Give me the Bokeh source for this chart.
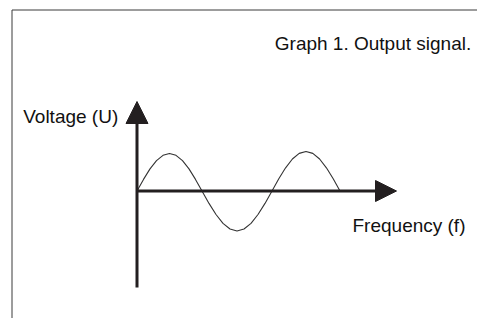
from bokeh.plotting import figure
from bokeh.models import Range1d, Arrow, NormalHead, ColumnDataSource
from bokeh.core.properties import value
from bokeh.embed import file_html
from bokeh.resources import INLINE

# --- data (x = frequency units, y = voltage units) ---
freq = [0, 6.5, 13, 19.5, 26, 32.5, 39, 45.5, 52, 58.5, 65,
        72, 79, 86, 93, 100, 107, 114, 121, 128, 135,
        141.8, 148.6, 155.4, 162.2, 169, 175.8, 182.6, 189.4, 196.2, 203]
voltage = [0, 11.6, 22.1, 30.3, 35.7, 37.5, 35.7, 30.3, 22.1, 11.6, 0,
           -12.4, -23.5, -32.4, -38.0, -40.0, -38.0, -32.4, -23.5, -12.4, 0,
           12.2, 23.2, 32.0, 37.6, 39.5, 37.6, 32.0, 23.2, 12.2, 0]

title_text = "Graph 1.  Output signal."
y_label = "Voltage (U)"
x_label = "Frequency (f)"

INK = "#231f20"
FONT = value("Liberation Sans")

W, H = 477, 318
X0, Y0 = 136.5, 190.5  # origin position in the picture (px)

p = figure(width=W, height=H, output_backend="svg", toolbar_location=None,
           x_range=Range1d(0 - X0, W - X0), y_range=Range1d(Y0 - H, Y0),
           min_border=0, outline_line_color=None, background_fill_color="white",
           border_fill_color="white")
p.axis.visible = False
p.grid.visible = False

# frame of the picture (left and top edges only)
p.line(x=[11.5 - X0, 11.5 - X0, W - X0 + 10], y=[-200, Y0 - 9.5, Y0 - 9.5],
       line_color="#3a3a3a", line_width=1)

# axes with arrow heads
p.add_layout(Arrow(end=NormalHead(size=22, fill_color=INK, line_color=INK, line_width=1),
                   x_start=0, y_start=-(287 - Y0), x_end=0, y_end=Y0 - 101,
                   line_color=INK, line_width=3))
p.add_layout(Arrow(end=NormalHead(size=21, fill_color=INK, line_color=INK, line_width=1),
                   x_start=0, y_start=0, x_end=396 - X0, y_end=0,
                   line_color=INK, line_width=3))

# signal
src = ColumnDataSource(dict(f=freq, u=voltage))
p.line("f", "u", source=src, line_color="#333333", line_width=1.1)

# texts
p.text(x=[476 - X0], y=[Y0 - 43.3], text=[title_text], text_font=FONT,
       text_font_size="19px", text_align="right", text_baseline="alphabetic",
       text_color="#111111")
p.text(x=[22.7 - X0], y=[Y0 - 116], text=[y_label], text_font=FONT,
       text_font_size="19px", text_align="left", text_baseline="alphabetic",
       text_color="#111111")
p.text(x=[352 - X0], y=[Y0 - 225], text=[x_label], text_font=FONT,
       text_font_size="19px", text_align="left", text_baseline="alphabetic",
       text_color="#111111")

open("out.html", "w").write(file_html(p, INLINE))
